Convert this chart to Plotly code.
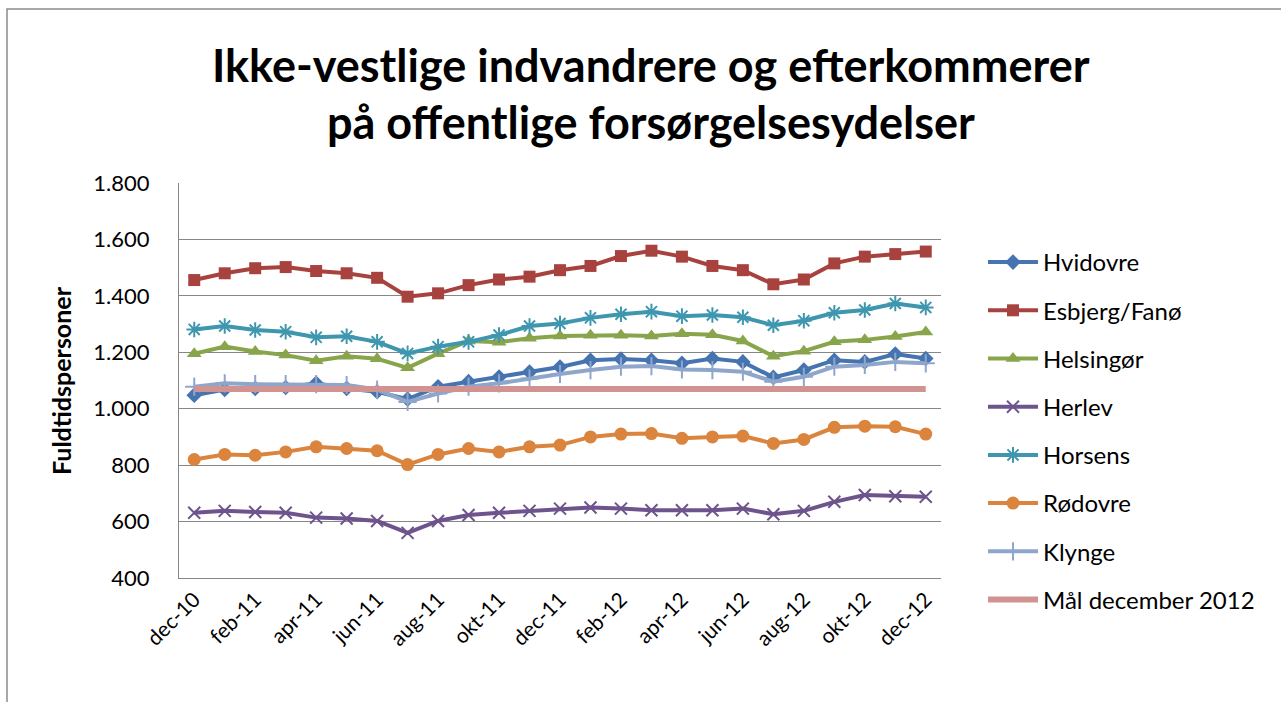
import plotly.graph_objects as go

months = ["dec-10", "jan-11", "feb-11", "mar-11", "apr-11", "maj-11", "jun-11", "jul-11",
          "aug-11", "sep-11", "okt-11", "nov-11", "dec-11", "jan-12", "feb-12", "mar-12",
          "apr-12", "maj-12", "jun-12", "jul-12", "aug-12", "sep-12", "okt-12", "nov-12", "dec-12"]

hvidovre = [1048, 1068, 1072, 1075, 1090, 1072, 1060, 1034, 1078, 1096, 1112, 1130, 1148,
            1172, 1176, 1172, 1161, 1178, 1166, 1111, 1137, 1172, 1166, 1194, 1178]
esbjerg = [1456, 1480, 1498, 1502, 1488, 1480, 1464, 1397, 1409, 1438, 1458, 1468, 1491,
           1506, 1541, 1560, 1539, 1506, 1491, 1441, 1458, 1515, 1539, 1548, 1557]
helsingor = [1195, 1220, 1203, 1190, 1170, 1186, 1177, 1145, 1195, 1240, 1236, 1250, 1258,
             1260, 1260, 1258, 1266, 1262, 1240, 1186, 1204, 1237, 1244, 1256, 1272]
herlev = [631, 638, 634, 631, 614, 611, 602, 560, 602, 623, 631, 638, 646,
          650, 646, 640, 640, 640, 646, 626, 638, 670, 694, 690, 688]
horsens = [1281, 1293, 1279, 1273, 1253, 1257, 1237, 1196, 1220, 1237, 1261, 1293, 1302,
           1322, 1335, 1344, 1328, 1332, 1324, 1296, 1312, 1340, 1350, 1373, 1359]
rodovre = [820, 838, 835, 847, 865, 859, 851, 802, 838, 859, 847, 865, 871,
           900, 910, 912, 895, 900, 903, 877, 891, 934, 938, 936, 910]
klynge = [1078, 1090, 1087, 1087, 1087, 1084, 1068, 1024, 1054, 1078, 1090, 1107, 1123,
          1137, 1149, 1151, 1139, 1137, 1131, 1096, 1113, 1149, 1155, 1166, 1161]
maal = [1070] * 25

tick_labels = months[::2]

series = [
    ("Hvidovre", hvidovre, "#4674B0", "diamond", 12, 0),
    ("Esbjerg/Fanø", esbjerg, "#A8423F", "square", 12, 0),
    ("Helsingør", helsingor, "#88A54B", "triangle-up", 13, 0),
    ("Herlev", herlev, "#6E548D", "x-thin-open", 12, 2),
    ("Horsens", horsens, "#3E97AF", "asterisk-open", 13, 2),
    ("Rødovre", rodovre, "#DB843D", "circle", 13, 0),
    ("Klynge", klynge, "#8FA6CC", "cross-thin-open", 13, 2),
]

FONT = "Lato"
fig = go.Figure()
for name, vals, col, sym, size, mlw in series:
    fig.add_trace(go.Scatter(
        x=months, y=vals, name=name, mode="lines+markers", legendgroup=name,
        line=dict(color=col, width=4),
        marker=dict(symbol=sym, size=size, color=col, line=dict(color=col, width=mlw)),
    ))
fig.add_trace(go.Scatter(
    x=months, y=maal, name="Mål december 2012", mode="lines", legendgroup="maal",
    line=dict(color="#D09392", width=6),
))

W, H = 1281, 702
L, R, T, B = 179, 941, 183, 578
pw, ph = R - L, B - T

def px(xp):
    return (xp - L) / pw

def py(yp):
    return (B - yp) / ph

fig.update_layout(
    width=W, height=H,
    margin=dict(l=L, r=W - R, t=T, b=H - B, pad=0),
    paper_bgcolor="white", plot_bgcolor="white",
    separators=",.",
    font=dict(family=FONT, color="black"),
    showlegend=True,
    legend=dict(x=px(983), xanchor="left", y=py(240), yanchor="top",
                font=dict(size=24, family=FONT), tracegroupgap=14, maxheight=680,
                bgcolor="rgba(0,0,0,0)", itemwidth=50),
    xaxis=dict(type="category", range=[-0.5, 24.5], tickmode="array",
               tickvals=tick_labels, ticktext=tick_labels, tickangle=-45,
               tickfont=dict(size=21, family=FONT), showgrid=False,
               showline=True, linecolor="#868686", linewidth=1, ticks="", fixedrange=True),
    yaxis=dict(range=[400, 1800], dtick=200, tick0=400, tickformat=",d",
               tickfont=dict(size=22, family=FONT), showgrid=True, gridcolor="#868686",
               gridwidth=1, showline=True, linecolor="#868686", linewidth=1, ticks="",
               ticklabelstandoff=24, zeroline=False, fixedrange=True),
    shapes=[dict(type="rect", xref="paper", yref="paper", x0=px(7), x1=px(1400),
                 y0=py(800), y1=py(9), line=dict(color="#8C8C8C", width=1.5),
                 fillcolor="rgba(0,0,0,0)", layer="below")],
    annotations=[
        dict(text="<b>Ikke-vestlige indvandrere og efterkommerer</b>", xref="paper", yref="paper",
             x=px(651), y=py(65), showarrow=False, font=dict(size=45, family=FONT),
             xanchor="center", yanchor="middle"),
        dict(text="<b>på offentlige forsørgelsesydelser</b>", xref="paper", yref="paper",
             x=px(651), y=py(122), showarrow=False, font=dict(size=45, family=FONT),
             xanchor="center", yanchor="middle"),
        dict(text="<b>Fuldtidspersoner</b>", xref="paper", yref="paper",
             x=px(61), y=py(380), showarrow=False, textangle=-90,
             font=dict(size=25, family=FONT), xanchor="center", yanchor="middle"),
    ],
)

fig.write_html("out.html", post_script="document.body.style.margin='0';",
               config={"displayModeBar": False})
